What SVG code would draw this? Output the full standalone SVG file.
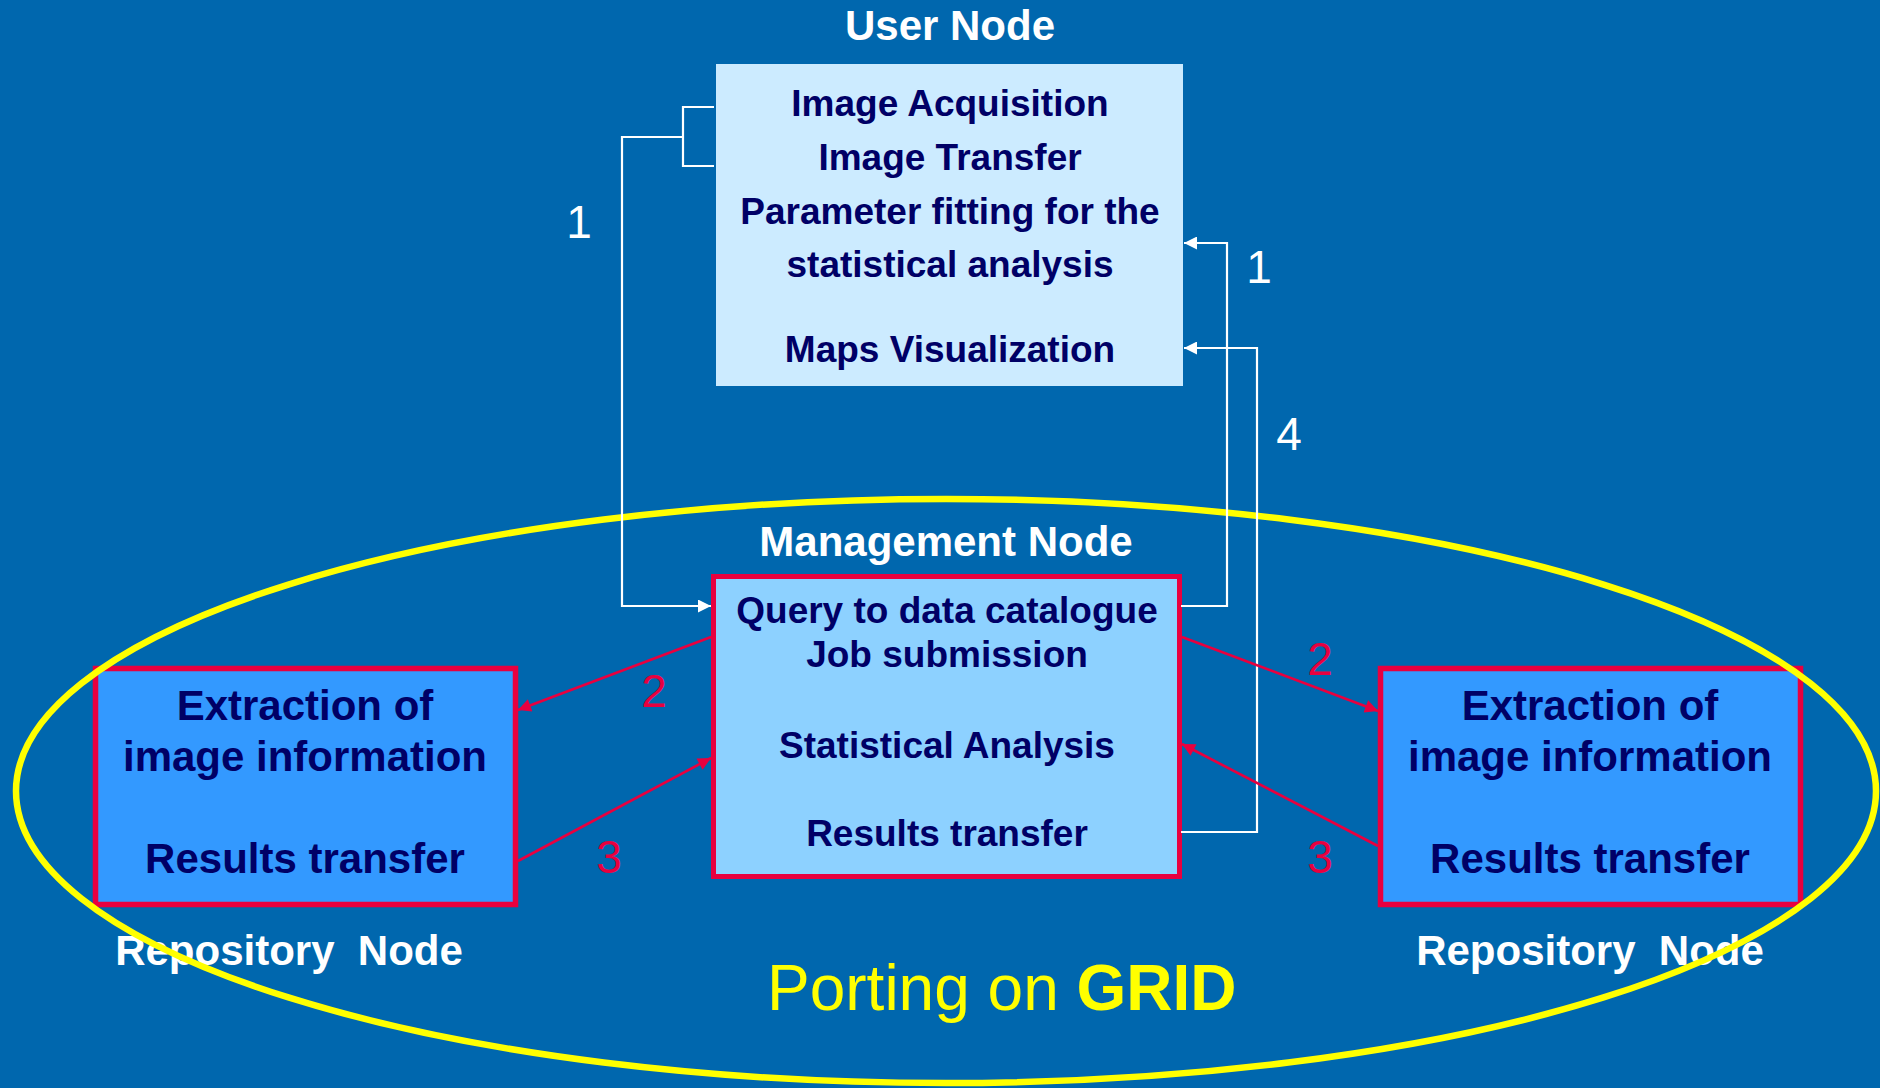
<svg xmlns="http://www.w3.org/2000/svg" width="1880" height="1088" viewBox="0 0 1880 1088">
<style>
.t{font-family:"Liberation Sans",Arial,sans-serif;font-weight:bold;text-anchor:middle}
.nav{fill:#000066;font-size:37px}
.big{fill:#000066;font-size:42px}
.ttl{fill:#ffffff;font-size:42px;white-space:pre}
.num{font-family:"Liberation Sans",Arial,sans-serif;font-size:46px;text-anchor:middle}
.w{stroke:#ffffff;stroke-width:2.2;fill:none}
.r{stroke:#E8003F;stroke-width:2.6;fill:none}
</style>
<defs>
<marker id="aw" viewBox="0 0 10 10" refX="10" refY="5" markerWidth="15" markerHeight="13" markerUnits="userSpaceOnUse" orient="auto"><path d="M0,0L10,5L0,10z" fill="#ffffff"/></marker>
<marker id="ar" viewBox="0 0 10 10" refX="10" refY="5" markerWidth="16" markerHeight="13" markerUnits="userSpaceOnUse" orient="auto"><path d="M0,0L10,5L0,10z" fill="#E8003F"/></marker>
</defs>
<rect width="1880" height="1088" fill="#0067AE"/>

<g id="user-node">
<text class="t ttl" x="950" y="40">User Node</text>
<rect x="716" y="64" width="467" height="322" fill="#CCEBFF"/>
<text class="t nav" x="950" y="116">Image Acquisition</text>
<text class="t nav" x="950" y="170">Image Transfer</text>
<text class="t nav" x="950" y="224">Parameter fitting for the</text>
<text class="t nav" x="950" y="277">statistical analysis</text>
<text class="t nav" x="950" y="362">Maps Visualization</text>
</g>

<g id="management-node">
<text class="t ttl" x="946" y="556">Management Node</text>
<rect x="713.5" y="576.5" width="466" height="300" fill="#8DD1FF" stroke="#E8003F" stroke-width="5"/>
<text class="t nav" x="947" y="623">Query to data catalogue</text>
<text class="t nav" x="947" y="667">Job submission</text>
<text class="t nav" x="947" y="758">Statistical Analysis</text>
<text class="t nav" x="947" y="846">Results transfer</text>
</g>

<g id="repository-left">
<rect x="95.5" y="668.5" width="420" height="236" fill="#3399FF" stroke="#E8003F" stroke-width="5.5"/>
<text class="t big" x="305" y="720">Extraction of</text>
<text class="t big" x="305" y="771">image information</text>
<text class="t big" x="305" y="873">Results transfer</text>
<text class="t ttl" x="289" y="965">Repository  Node</text>
</g>

<g id="repository-right">
<rect x="1380.5" y="668.5" width="420" height="236" fill="#3399FF" stroke="#E8003F" stroke-width="5.5"/>
<text class="t big" x="1590" y="720">Extraction of</text>
<text class="t big" x="1590" y="771">image information</text>
<text class="t big" x="1590" y="873">Results transfer</text>
<text class="t ttl" x="1590" y="965">Repository  Node</text>
</g>

<g id="grid">
<ellipse cx="946" cy="791" rx="930" ry="292" fill="none" stroke="#FFFF00" stroke-width="6.5"/>
<text x="767" y="1010" font-family="Liberation Sans, Arial, sans-serif" font-size="64" fill="#FFFF00">Porting on <tspan font-weight="bold">GRID</tspan></text>
</g>

<g id="connectors">
<path class="w" d="M714,107H683V166H714"/>
<path class="w" d="M683,137H622V606H711" marker-end="url(#aw)"/>
<path class="w" d="M1181,606H1227V243H1184" marker-end="url(#aw)"/>
<path class="w" d="M1181,832H1257V348H1184" marker-end="url(#aw)"/>
<path class="r" d="M711,637L518,710" marker-end="url(#ar)"/>
<path class="r" d="M518,861L711,758" marker-end="url(#ar)"/>
<path class="r" d="M1182,637L1378,711" marker-end="url(#ar)"/>
<path class="r" d="M1378,846L1182,744" marker-end="url(#ar)"/>
</g>

<g id="labels">
<text class="num" x="579" y="238" fill="#ffffff">1</text>
<text class="num" x="1259" y="283" fill="#ffffff">1</text>
<text class="num" x="1289" y="450" fill="#ffffff">4</text>
<text class="num" x="654" y="707" fill="#E8003F">2</text>
<text class="num" x="609" y="873" fill="#E8003F">3</text>
<text class="num" x="1320" y="675" fill="#E8003F">2</text>
<text class="num" x="1320" y="873" fill="#E8003F">3</text>
</g>
</svg>
